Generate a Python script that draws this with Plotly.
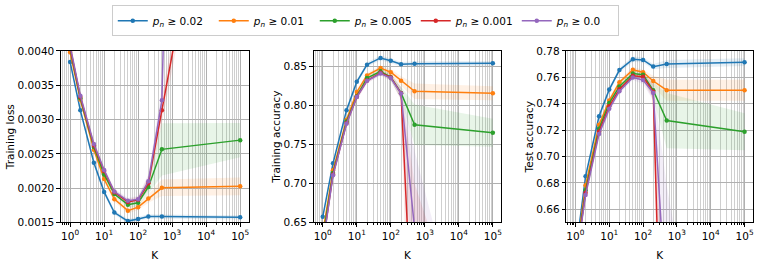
import plotly.graph_objects as go

# ---------------- data ----------------
K = [1, 2, 5, 10, 20, 50, 100, 200, 500, 100000]
series_names = ["<i>p</i><sub><i>n</i></sub> ≥ 0.02", "<i>p</i><sub><i>n</i></sub> ≥ 0.01",
                "<i>p</i><sub><i>n</i></sub> ≥ 0.005", "<i>p</i><sub><i>n</i></sub> ≥ 0.001",
                "<i>p</i><sub><i>n</i></sub> ≥ 0.0"]
colors = ["#1f77b4", "#ff7f0e", "#2ca02c", "#d62728", "#9467bd"]

loss_002 = [0.00384, 0.003134, 0.00237, 0.001945, 0.001644, 0.00152, 0.00155, 0.001588, 0.001586, 0.001575]
loss_001 = [0.00398, 0.003288, 0.00256, 0.002134, 0.00184, 0.001672, 0.001723, 0.001849, 0.002005, 0.002027]
loss_0005 = [0.00403, 0.00331, 0.0026, 0.0022, 0.001914, 0.00176, 0.001788, 0.002017, 0.002566, 0.0027]
loss_0001 = [0.00405, 0.00333, 0.00262, 0.00225, 0.00194, 0.0018, 0.00183, 0.00207, 0.003137, 0.0093]
loss_0 = [0.00408, 0.003348, 0.002643, 0.002265, 0.001951, 0.001816, 0.00184, 0.0021, 0.00328, 0.05]

loss_std_002 = [0.00004, 0.00004, 0.00004, 0.00004, 0.00003, 0.00003, 0.00003, 0.00003, 0.00003, 0.00003]
loss_std_001 = [0.00005, 0.00005, 0.00005, 0.00005, 0.00004, 0.00004, 0.00004, 0.00006, 0.00012, 0.00013]
loss_std_0005 = [0.00005, 0.00005, 0.00005, 0.00005, 0.00004, 0.00004, 0.00005, 0.0001, 0.00038, 0.00025]
loss_std_0001 = [0.00006, 0.00006, 0.00006, 0.00005, 0.00004, 0.00004, 0.00005, 0.0001, 0.0002, 0.0004]
loss_std_0 = [0.00006, 0.00006, 0.00006, 0.00005, 0.00004, 0.00004, 0.00005, 0.0001, 0.0002, 0.0004]

tacc_002 = [0.6573, 0.7259, 0.794, 0.8304, 0.8524, 0.861, 0.8573, 0.8529, 0.8537, 0.8541]
tacc_001 = [0.6367, 0.7169, 0.7818, 0.8173, 0.8386, 0.848, 0.8427, 0.8316, 0.8182, 0.8157]
tacc_0005 = [0.630, 0.7133, 0.7794, 0.812, 0.8353, 0.8439, 0.8361, 0.8161, 0.7753, 0.7651]
tacc_0001 = [0.622, 0.7115, 0.7775, 0.8112, 0.832, 0.842, 0.836, 0.8157, 0.45, 0.2]
tacc_0 = [0.620, 0.7104, 0.7765, 0.8108, 0.8316, 0.841, 0.8353, 0.8153, 0.642, 0.25]

tacc_std_002 = [0.004, 0.004, 0.004, 0.003, 0.003, 0.003, 0.003, 0.003, 0.003, 0.003]
tacc_std_001 = [0.004, 0.004, 0.004, 0.003, 0.003, 0.003, 0.004, 0.006, 0.01, 0.009]
tacc_std_0005 = [0.004, 0.004, 0.004, 0.003, 0.003, 0.003, 0.004, 0.008, 0.026, 0.018]
tacc_std_0001 = [0.005, 0.005, 0.004, 0.004, 0.003, 0.003, 0.004, 0.008, 0.25, 0.2]
tacc_std_0 = [0.005, 0.005, 0.004, 0.004, 0.003, 0.003, 0.004, 0.008, 0.1, 0.1]

test_002 = [0.625, 0.685, 0.7305, 0.7507, 0.7655, 0.7737, 0.7732, 0.7681, 0.7701, 0.7715]
test_001 = [0.621, 0.6782, 0.724, 0.7424, 0.7562, 0.7657, 0.7638, 0.7572, 0.7502, 0.7502]
test_0005 = [0.619, 0.6745, 0.7211, 0.7405, 0.7531, 0.7628, 0.762, 0.7502, 0.7272, 0.7187]
test_0001 = [0.618, 0.6725, 0.719, 0.738, 0.751, 0.7612, 0.7604, 0.749, 0.39, 0.2]
test_0 = [0.617, 0.6709, 0.717, 0.7361, 0.7495, 0.7599, 0.7579, 0.7482, 0.578, 0.25]

test_std_002 = [0.003, 0.003, 0.002, 0.002, 0.002, 0.002, 0.002, 0.002, 0.003, 0.003]
test_std_001 = [0.003, 0.003, 0.002, 0.002, 0.002, 0.002, 0.002, 0.004, 0.008, 0.008]
test_std_0005 = [0.003, 0.003, 0.002, 0.002, 0.002, 0.002, 0.003, 0.006, 0.021, 0.014]
test_std_0001 = [0.004, 0.004, 0.003, 0.003, 0.002, 0.002, 0.003, 0.006, 0.2, 0.2]
test_std_0 = [0.004, 0.004, 0.003, 0.003, 0.002, 0.002, 0.003, 0.006, 0.1, 0.1]

x_tick_vals = [1, 10, 100, 1000, 10000, 100000]
x_tick_text = ["10<sup>0</sup>", "10<sup>1</sup>", "10<sup>2</sup>", "10<sup>3</sup>", "10<sup>4</sup>", "10<sup>5</sup>"]
loss_ticks = [0.0015, 0.0020, 0.0025, 0.0030, 0.0035, 0.0040]
tacc_ticks = [0.65, 0.70, 0.75, 0.80, 0.85]
test_ticks = [0.66, 0.68, 0.70, 0.72, 0.74, 0.76, 0.78]

panels = [
    dict(means=[loss_002, loss_001, loss_0005, loss_0001, loss_0],
         stds=[loss_std_002, loss_std_001, loss_std_0005, loss_std_0001, loss_std_0],
         title="Training loss", ticks=loss_ticks, fmt=".4f", yrange=[0.0015, 0.0040]),
    dict(means=[tacc_002, tacc_001, tacc_0005, tacc_0001, tacc_0],
         stds=[tacc_std_002, tacc_std_001, tacc_std_0005, tacc_std_0001, tacc_std_0],
         title="Training accuracy", ticks=tacc_ticks, fmt=".2f", yrange=[0.65, 0.870]),
    dict(means=[test_002, test_001, test_0005, test_0001, test_0],
         stds=[test_std_002, test_std_001, test_std_0005, test_std_0001, test_std_0],
         title="Test accuracy", ticks=test_ticks, fmt=".2f", yrange=[0.65, 0.78]),
]

# ---------------- figure ----------------
W, H = 762, 271
FONT = "DejaVu Sans"
x_px = [(61, 249), (314, 502), (567, 754)]
y_px = (47, 226.5)


def rgba(hexc, a):
    h = hexc.lstrip("#")
    return "rgba(%d,%d,%d,%.2f)" % (int(h[0:2], 16), int(h[2:4], 16), int(h[4:6], 16), a)


fig = go.Figure()
layout = {}
for p, panel in enumerate(panels):
    sfx = "" if p == 0 else str(p + 1)
    xa, ya = "x" + sfx, "y" + sfx
    for s in range(5):
        m, sd = panel["means"][s], panel["stds"][s]
        up = [a + b for a, b in zip(m, sd)]
        lo = [a - b for a, b in zip(m, sd)]
        fig.add_trace(go.Scatter(x=K + K[::-1], y=up + lo[::-1], fill="toself",
                                 fillcolor=rgba(colors[s], 0.11), line=dict(width=0),
                                 mode="lines", hoverinfo="skip", showlegend=False,
                                 xaxis=xa, yaxis=ya))
    for s in range(5):
        fig.add_trace(go.Scatter(x=K, y=panel["means"][s], mode="lines+markers",
                                 line=dict(color=colors[s], width=1.5),
                                 marker=dict(color=colors[s], size=4.5),
                                 name=series_names[s], showlegend=(p == 0),
                                 xaxis=xa, yaxis=ya))
    x0, x1 = x_px[p]
    layout["xaxis" + sfx] = dict(
        type="log", range=[-0.27, 5.25], domain=[x0 / W, x1 / W], anchor=ya,
        tickmode="array", tickvals=x_tick_vals, ticktext=x_tick_text,
        showline=True, linecolor="black", linewidth=1, mirror=True,
        ticks="outside", ticklen=3.5, tickcolor="black",
        showgrid=True, gridcolor="#b0b0b0", gridwidth=1,
        minor=dict(dtick="D1", showgrid=True, gridcolor="#cfcfcf", gridwidth=1,
                   ticks="outside", ticklen=2, tickcolor="black"),
        title=dict(text="K", font=dict(size=10.5, color="black", family=FONT), standoff=11),
        tickfont=dict(size=10.5, color="black", family=FONT), zeroline=False,
    )
    layout["yaxis" + sfx] = dict(
        range=panel["yrange"], domain=[1 - y_px[1] / H, 1 - y_px[0] / H], anchor=xa,
        tickmode="array", tickvals=panel["ticks"], tickformat=panel["fmt"],
        showline=True, linecolor="black", linewidth=1, mirror=True,
        ticks="outside", ticklen=3.5, tickcolor="black",
        showgrid=True, gridcolor="#b0b0b0", gridwidth=1,
        title=dict(text=panel["title"], font=dict(size=10.5, color="black", family=FONT), standoff=0),
        tickfont=dict(size=10.5, color="black", family=FONT), zeroline=False,
    )

fig.update_layout(**layout)
fig.update_layout(
    width=W, height=H, margin=dict(l=0, r=0, t=0, b=0),
    plot_bgcolor="white", paper_bgcolor="white",
    font=dict(family=FONT, size=10.5, color="black"),
    legend=dict(orientation="h", x=0.48, xanchor="center", y=1.003, yanchor="top",
                bordercolor="#cccccc", borderwidth=1, bgcolor="white",
                font=dict(size=10.5, family=FONT), itemwidth=30, tracegroupgap=0,
                entrywidth=56, entrywidthmode="pixels"),
    showlegend=True,
)

fig.write_html("out.html", config={"displayModeBar": False},
               post_script="document.body.style.margin='0';")
